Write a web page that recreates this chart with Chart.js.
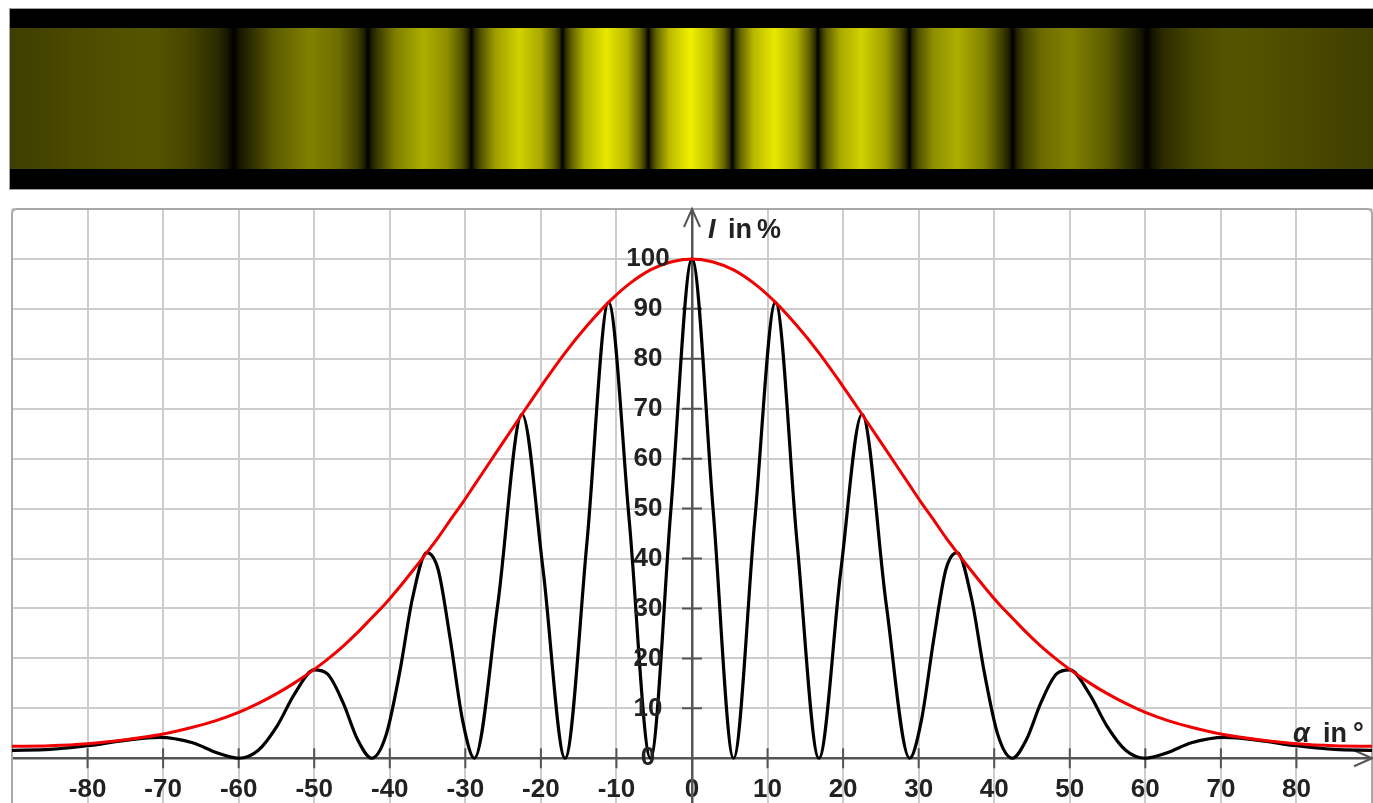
<!DOCTYPE html>
<html>
<head>
<meta charset="utf-8">
<title>Doppelspalt</title>
<script src="https://cdn.jsdelivr.net/npm/chart.js@4.4.1/dist/chart.umd.min.js"></script>
<style>
  html, body { margin: 0; padding: 0; background: #fff; overflow: hidden; }
  #wrap { position: relative; width: 1373px; height: 803px; }
  canvas { position: absolute; left: 0; }
  #strip { top: 0; }
  #plot { top: 189px; }
</style>
</head>
<body>
<div id="wrap">
  <canvas id="strip" width="1373" height="200"></canvas>
  <canvas id="plot" width="1373" height="640"></canvas>
</div>
<script>
// Winkel in Grad
const angles = [-90, -85, -80, -75, -70.5, -66.1, -62.9, -60, -57.4, -54.9, -52.6, -50, -48.25, -46.2, -44.25, -42.4,
  -40.5, -38.7, -37, -35.1, -33.6, -32, -30.35, -28.8, -25.7, -22.5, -19.7, -16.8, -13.9, -11.05, -8.3, -5.5, -2.8,
  0, 2.8, 5.5, 8.3, 11.05, 13.9, 16.8, 19.7, 22.5, 25.7, 28.8, 30.35, 32, 33.6, 35.1, 37, 38.7,
  40.5, 42.4, 44.25, 46.2, 48.25, 50, 52.6, 54.9, 57.4, 60, 62.9, 66.1, 70.5, 75, 80, 85, 90];

// Intensität hinter dem Doppelspalt (schwarz), in %
const fringeIntensity = [1.6, 1.8, 2.5, 3.6, 4.2, 3.1, 1.1, 0, 1.6, 6.5, 12.9, 17.7, 16.9, 11.2, 3.7, 0,
  4.6, 17.1, 32.0, 41.2, 37.8, 23.9, 7.5, 0, 30.9, 68.9, 37.6, 0, 43.3, 91.3, 47.5, 0, 49.7,
  100, 49.7, 0, 47.5, 91.3, 43.3, 0, 37.6, 68.9, 30.9, 0, 7.5, 23.9, 37.8, 41.2, 32.0, 17.1,
  4.6, 0, 3.7, 11.2, 16.9, 17.7, 12.9, 6.5, 1.6, 0, 1.1, 3.1, 4.2, 3.6, 2.5, 1.8, 1.6];

// Einhüllende (rot), in %
const envelope = [2.4, 2.5, 2.9, 3.7, 4.7, 6.2, 7.6, 9.2, 11.0, 13.0, 15.1, 17.8, 19.8, 22.4, 25.2, 28.1,
  31.1, 34.3, 37.5, 41.2, 44.2, 47.7, 51.2, 54.7, 61.7, 68.9, 75.1, 81.2, 86.6, 91.3, 95.0, 97.8, 99.4,
  100, 99.4, 97.8, 95.0, 91.3, 86.6, 81.2, 75.1, 68.9, 61.7, 54.7, 51.2, 47.7, 44.2, 41.2, 37.5, 34.3,
  31.1, 28.1, 25.2, 22.4, 19.8, 17.8, 15.1, 13.0, 11.0, 9.2, 7.6, 6.2, 4.7, 3.7, 2.9, 2.5, 2.4];

const xTicks = [-90, -80, -70, -60, -50, -40, -30, -20, -10, 0, 10, 20, 30, 40, 50, 60, 70, 80, 90];
const yTicks = [0, 10, 20, 30, 40, 50, 60, 70, 80, 90, 100, 110];

// Schirmbild oben: Helligkeit (0-255) der Streifen je Winkel
const stripAngles = [-90, -85, -80, -75, -70.5, -66.1, -62.2, -60.8, -60, -59.2, -57.8, -54.9, -50, -46.21, -43.84,
  -42.91, -42.36, -41.81, -40.88, -38.73, -35.1, -31.96, -30.03, -29.24, -28.77, -28.3, -27.51, -25.67, -22.5,
  -19.69, -17.93, -17.21, -16.78, -16.35, -15.63, -13.92, -11.05, -8.3, -6.62, -5.94, -5.52, -5.1, -4.42, -2.76,
  0, 2.76, 4.42, 5.1, 5.52, 5.94, 6.62, 8.3, 11.05, 13.92, 15.63, 16.35, 16.78, 17.21, 17.93, 19.69,
  22.5, 25.67, 27.51, 28.3, 28.77, 29.24, 30.03, 31.96, 35.1, 38.73, 40.88, 41.81, 42.36, 42.91, 43.84, 46.21,
  50, 54.9, 57.8, 59.2, 60, 60.8, 62.2, 66.1, 70.5, 75, 80, 85, 90];
const stripShade = [63, 68, 75, 81, 84, 70, 44, 22, 0, 22, 44, 90, 129, 109, 65,
  33, 0, 33, 65, 127, 174, 143, 83, 41, 0, 41, 83, 157, 210,
  169, 95, 48, 0, 48, 95, 178, 232, 184, 101, 51, 0, 51, 102, 186,
  240, 186, 102, 51, 0, 51, 101, 184, 232, 178, 95, 48, 0, 48, 95, 169,
  210, 157, 83, 41, 0, 41, 83, 143, 174, 127, 65, 33, 0, 33, 65, 109,
  129, 90, 44, 22, 0, 22, 44, 70, 84, 81, 75, 68, 63];

const FONT = "'Liberation Sans', Arial, sans-serif";

document.addEventListener("DOMContentLoaded", () => {
  // Streifenbild als Farbverlauf entlang der x-Skala
  const fringeStrip = {
    id: "fringeStrip",
    beforeDraw(chart) {
      const { ctx, chartArea: a, scales: { x } } = chart;
      ctx.save();
      ctx.fillStyle = "#000";
      ctx.fillRect(9, 9, chart.width - 9, 180);
      ctx.strokeStyle = "#a0a0a0";
      ctx.lineWidth = 1;
      ctx.strokeRect(9.5, 8.5, chart.width, 181);
      const grad = ctx.createLinearGradient(a.left, 0, a.right, 0);
      stripAngles.forEach((ang, i) => {
        let off = (x.getPixelForValue(ang) - a.left) / (a.right - a.left);
        off = Math.min(1, Math.max(0, off));
        const v = stripShade[i];
        grad.addColorStop(off, `rgb(${v},${v},0)`);
      });
      ctx.fillStyle = grad;
      ctx.fillRect(a.left, a.top, a.width, a.height);
      ctx.restore();
    }
  };

  new Chart(document.getElementById("strip"), {
    type: "line",
    data: { datasets: [] },
    options: {
      responsive: false,
      animation: false,
      layout: { padding: { left: 10, right: 0, top: 28, bottom: 31 } },
      scales: {
        x: { type: "linear", min: -89.4, max: 89.7, display: false },
        y: { display: false }
      },
      plugins: { legend: { display: false }, tooltip: { enabled: false } }
    },
    plugins: [fringeStrip]
  });

  // Rahmen, Achsenpfeile, Teilstriche und Beschriftung
  const axisDecor = {
    id: "axisDecor",
    beforeDatasetsDraw(chart) {
      const { ctx, chartArea: a, scales: { x, y } } = chart;
      const x0 = x.getPixelForValue(0);
      const y0 = y.getPixelForValue(0);
      ctx.save();
      ctx.strokeStyle = "#a8a8a8";
      ctx.lineWidth = 2;
      ctx.beginPath();
      if (ctx.roundRect) ctx.roundRect(a.left, a.top, a.width, a.height, 5);
      else ctx.rect(a.left, a.top, a.width, a.height);
      ctx.stroke();

      ctx.strokeStyle = "#555";
      ctx.lineWidth = 2;
      ctx.beginPath();
      xTicks.forEach(v => {
        if (v === 0 || Math.abs(v) === 90) return;
        const px = x.getPixelForValue(v);
        ctx.moveTo(px, y0 - 10);
        ctx.lineTo(px, y0 + 10);
      });
      yTicks.forEach(v => {
        if (v === 0 || v === 110) return;
        const py = y.getPixelForValue(v);
        ctx.moveTo(x0 - 10, py);
        ctx.lineTo(x0 + 10, py);
      });
      ctx.moveTo(x0 - 8, a.top + 18);
      ctx.lineTo(x0, a.top);
      ctx.lineTo(x0 + 8, a.top + 18);
      ctx.moveTo(a.right - 18, y0 - 8);
      ctx.lineTo(a.right, y0);
      ctx.lineTo(a.right - 18, y0 + 8);
      ctx.stroke();
      ctx.restore();
    },
    afterDraw(chart) {
      const { ctx, chartArea: a, scales: { x, y } } = chart;
      const x0 = x.getPixelForValue(0);
      const y0 = y.getPixelForValue(0);
      ctx.save();
      ctx.fillStyle = "#222";
      ctx.font = `bold 26px ${FONT}`;
      ctx.textAlign = "center";
      ctx.textBaseline = "middle";
      yTicks.forEach(v => {
        if (v === 110) return;
        ctx.fillText(String(v), x0 - 44, y.getPixelForValue(v));
      });

      ctx.textAlign = "left";
      ctx.textBaseline = "alphabetic";
      // y-Achse: I in %
      const ty = a.top + 29;
      ctx.font = `italic bold 27px ${FONT}`;
      ctx.fillText("I", x0 + 16, ty);
      ctx.font = `bold 27px ${FONT}`;
      ctx.fillText("in", x0 + 36, ty);
      ctx.fillText("%", x0 + 65, ty);
      // x-Achse: α in °
      const ay = y0 - 16;
      ctx.font = `italic bold 27px ${FONT}`;
      ctx.fillText("α", a.right - 79, ay);
      ctx.font = `bold 27px ${FONT}`;
      ctx.fillText("in", a.right - 49, ay);
      ctx.fillText("°", a.right - 19, ay);
      ctx.restore();
    }
  };

  const plotCtx = document.getElementById("plot").getContext("2d");

  new Chart(plotCtx, {
    type: "line",
    data: {
      datasets: [
        {
          label: "Einhüllende",
          data: angles.map((a, i) => ({ x: a, y: envelope[i] })),
          borderColor: "#f00000",
          borderWidth: 3,
          pointRadius: 0,
          cubicInterpolationMode: "monotone",
          fill: false
        },
        {
          label: "Intensität",
          data: angles.map((a, i) => ({ x: a, y: fringeIntensity[i] })),
          borderColor: "#000",
          borderWidth: 3.2,
          pointRadius: 0,
          cubicInterpolationMode: "monotone",
          fill: false
        }
      ]
    },
    options: {
      responsive: false,
      animation: false,
      layout: { padding: { left: 12, right: 1, top: 20, bottom: 20 } },
      scales: {
        x: {
          type: "linear",
          min: -90,
          max: 90,
          position: { y: 0 },
          afterBuildTicks: s => { s.ticks = xTicks.map(v => ({ value: v })); },
          grid: { color: "#cdcdcd", lineWidth: 2, drawTicks: true, tickLength: 15, tickColor: "rgba(0,0,0,0)" },
          border: { display: true, color: "#555", width: 2.5 },
          ticks: {
            autoSkip: false,
            maxRotation: 0,
            minRotation: 0,
            padding: 1,
            color: "#222",
            font: { family: FONT, size: 26, weight: "bold" },
            callback: v => (Math.abs(v) === 90 ? "" : String(v))
          }
        },
        y: {
          type: "linear",
          min: -10.16,
          max: 110,
          position: { x: 0 },
          afterBuildTicks: s => { s.ticks = yTicks.map(v => ({ value: v })); },
          grid: { color: "#cdcdcd", lineWidth: 2, drawTicks: false },
          border: { display: true, color: "#555", width: 2.5 },
          ticks: { display: false }
        }
      },
      plugins: { legend: { display: false }, tooltip: { enabled: false } }
    },
    plugins: [axisDecor]
  });
});
</script>
</body>
</html>
